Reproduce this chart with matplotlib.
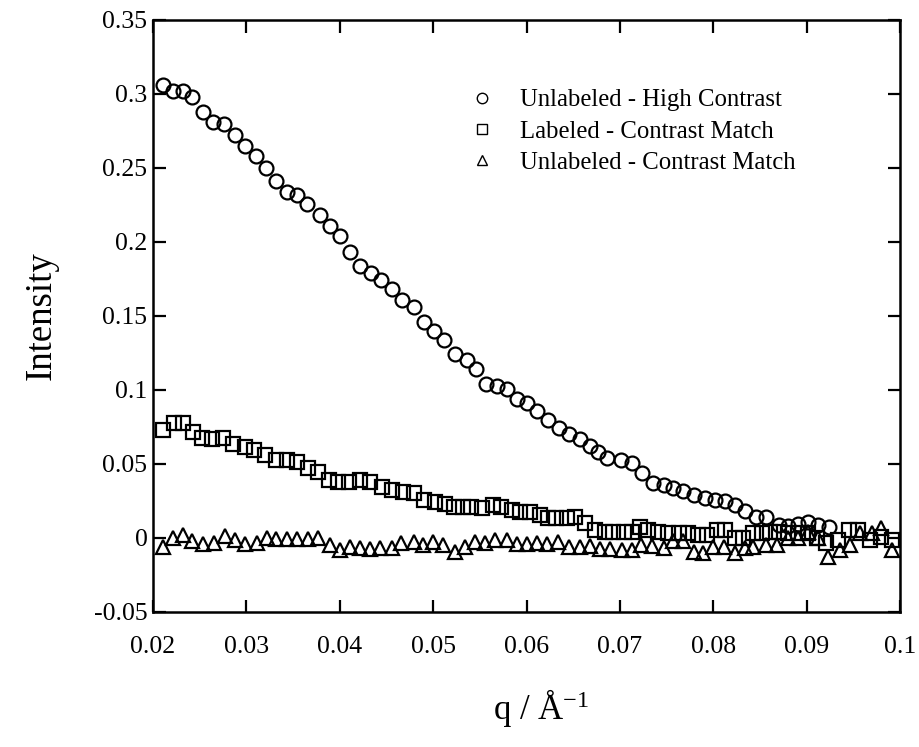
import matplotlib
matplotlib.use("Agg")
import matplotlib.pyplot as plt
from matplotlib.lines import Line2D

# Unlabeled - High Contrast
q_high = [0.0211, 0.0221, 0.0232, 0.0242, 0.0254, 0.0264, 0.0276, 0.0288, 0.0299, 0.0310,
          0.0321, 0.0332, 0.0343, 0.0354, 0.0365, 0.0379, 0.0390, 0.0400, 0.0411, 0.0422,
          0.0433, 0.0444, 0.0456, 0.0467, 0.0479, 0.0490, 0.0501, 0.0512, 0.0523, 0.0536,
          0.0546, 0.0557, 0.0568, 0.0579, 0.0590, 0.0601, 0.0611, 0.0623, 0.0635, 0.0646,
          0.0657, 0.0668, 0.0677, 0.0686, 0.0701, 0.0713, 0.0724, 0.0736, 0.0747, 0.0757,
          0.0768, 0.0779, 0.0791, 0.0802, 0.0813, 0.0823, 0.0834, 0.0846, 0.0857, 0.0870,
          0.0880, 0.0891, 0.0902, 0.0912, 0.0924]
i_high = [0.306, 0.302, 0.302, 0.298, 0.288, 0.281, 0.280, 0.272, 0.265, 0.258,
          0.250, 0.241, 0.234, 0.232, 0.226, 0.218, 0.211, 0.204, 0.193, 0.184,
          0.179, 0.174, 0.168, 0.161, 0.156, 0.146, 0.140, 0.134, 0.124, 0.120,
          0.114, 0.104, 0.103, 0.101, 0.094, 0.091, 0.086, 0.080, 0.074, 0.070,
          0.067, 0.062, 0.058, 0.054, 0.053, 0.051, 0.044, 0.037, 0.036, 0.034,
          0.032, 0.029, 0.027, 0.026, 0.025, 0.022, 0.018, 0.014, 0.014, 0.009,
          0.008, 0.0095, 0.011, 0.009, 0.0076]

# Labeled - Contrast Match
q_lab = [0.0211, 0.0222, 0.0232, 0.0243, 0.0252, 0.0263, 0.0275, 0.0286, 0.0298, 0.0308,
         0.0320, 0.0332, 0.0343, 0.0354, 0.0366, 0.0377, 0.0388, 0.0398, 0.0410, 0.0422,
         0.0432, 0.0445, 0.0456, 0.0468, 0.0479, 0.0490, 0.0502, 0.0513,
         0.0522, 0.0532, 0.0541, 0.0552, 0.0564, 0.0573, 0.0584, 0.0593, 0.0604, 0.0614,
         0.0623, 0.0632, 0.0643, 0.0652, 0.0663, 0.0673, 0.0684, 0.0693,
         0.0704, 0.0713, 0.0722, 0.0730, 0.0741, 0.0752, 0.0763, 0.0773, 0.0784, 0.0793,
         0.0804, 0.0813, 0.0823, 0.0832, 0.0843, 0.0852,
         0.0861, 0.0870, 0.0880, 0.0891, 0.0902, 0.0911, 0.0921, 0.0934, 0.0945, 0.0955,
         0.0968, 0.0980, 0.0991]
i_lab = [0.0730, 0.0775, 0.0775, 0.0718, 0.0674, 0.0667, 0.0674, 0.0635, 0.0617, 0.0595,
         0.0561, 0.0527, 0.0527, 0.0516, 0.0471, 0.0448, 0.0392, 0.0380, 0.0380, 0.0392,
         0.0380, 0.0347, 0.0324, 0.0313, 0.0302, 0.0257, 0.0245, 0.0230,
         0.0211, 0.0211, 0.0211, 0.0200, 0.0223, 0.0211, 0.0189, 0.0178, 0.0178, 0.0155,
         0.0133, 0.0133, 0.0133, 0.0144, 0.0099, 0.0054, 0.0043, 0.0043,
         0.0043, 0.0043, 0.0077, 0.0054, 0.0043, 0.0032, 0.0032, 0.0032, 0.0020, 0.0020,
         0.0054, 0.0054, -0.0002, -0.0002, 0.0032, 0.0035,
         0.0043, 0.0043, 0.0032, 0.0032, 0.0032, -0.0002, -0.0036, -0.0014, 0.0054, 0.0054,
         -0.0014, 0.0009, -0.0014]

# Unlabeled - Contrast Match
q_unl = [0.0211, 0.0221, 0.0232, 0.0242, 0.0254, 0.0265, 0.0277, 0.0288, 0.0299, 0.0311,
         0.0322, 0.0332, 0.0343, 0.0354, 0.0366, 0.0377, 0.0390, 0.0400, 0.0411, 0.0422,
         0.0432, 0.0443, 0.0456, 0.0466, 0.0479, 0.0489, 0.0500, 0.0511,
         0.0523, 0.0534, 0.0545, 0.0556, 0.0566, 0.0579, 0.0590, 0.0600, 0.0611, 0.0622,
         0.0634, 0.0645, 0.0657, 0.0668, 0.0679, 0.0689,
         0.0702, 0.0713, 0.0723, 0.0734, 0.0747, 0.0757, 0.0768, 0.0779, 0.0789, 0.0800,
         0.0811, 0.0823, 0.0834, 0.0843,
         0.0857, 0.0868, 0.0880, 0.0891, 0.0902, 0.0912, 0.0923, 0.0936, 0.0946, 0.0957,
         0.0970, 0.0980, 0.0991]
i_unl = [-0.0059, -0.0003, 0.0020, -0.0018, -0.0041, -0.0032, 0.0014, -0.0014, -0.0041, -0.0036,
         -0.0003, -0.0009, -0.0009, -0.0009, -0.0009, -0.0003, -0.0047, -0.0081, -0.0059, -0.0070,
         -0.0077, -0.0070, -0.0070, -0.0032, -0.0025, -0.0047, -0.0025, -0.0047,
         -0.0093, -0.0059, -0.0025, -0.0036, -0.0014, -0.0014, -0.0041, -0.0041, -0.0032, -0.0041,
         -0.0025, -0.0059, -0.0059, -0.0054, -0.0077, -0.0077,
         -0.0081, -0.0081, -0.0047, -0.0054, -0.0070, -0.0018, -0.0018, -0.0093, -0.0104, -0.0059,
         -0.0059, -0.0099, -0.0070, -0.0059,
         -0.0047, -0.0047, -0.0002, -0.0002, 0.0043, -0.0002, -0.0127, -0.0081, -0.0047, 0.0032,
         0.0032, 0.0066, -0.0081]

series_labels = ["Unlabeled - High Contrast", "Labeled - Contrast Match", "Unlabeled - Contrast Match"]
x_ticks = [0.02, 0.03, 0.04, 0.05, 0.06, 0.07, 0.08, 0.09, 0.1]
x_tick_labels = ["0.02", "0.03", "0.04", "0.05", "0.06", "0.07", "0.08", "0.09", "0.1"]
y_ticks = [-0.05, 0, 0.05, 0.1, 0.15, 0.2, 0.25, 0.3, 0.35]
y_tick_labels = ["-0.05", "0", "0.05", "0.1", "0.15", "0.2", "0.25", "0.3", "0.35"]

plt.rcParams["font.family"] = ["Liberation Serif", "DejaVu Serif"]

fig = plt.figure(figsize=(9.19, 7.47), dpi=100)
ax = fig.add_axes([153 / 919, 1 - 612 / 747, (900 - 153) / 919, (612 - 20) / 747])

mstyle = dict(linestyle="none", markerfacecolor="none", markeredgecolor="black", markeredgewidth=1.6)
ax.plot(q_high, i_high, marker="o", markersize=10, **mstyle)
ax.plot(q_lab, i_lab, marker="s", markersize=9.5, **mstyle)
ax.plot(q_unl, i_unl, marker="^", markersize=10.5, **mstyle)

ax.set_xlim(0.02, 0.1)
ax.set_ylim(-0.05, 0.35)
ax.set_xticks(x_ticks)
ax.set_xticklabels(x_tick_labels)
ax.set_yticks(y_ticks)
ax.set_yticklabels(y_tick_labels)
ax.tick_params(direction="in", length=9, width=1.6, top=True, right=True, labelsize=18.5)
ax.tick_params(axis="y", pad=4)
ax.tick_params(axis="x", pad=17)
for sp in ax.spines.values():
    sp.set_linewidth(1.8)

ax.set_ylabel("Intensity", fontsize=26.5, labelpad=25)
ax.set_xlabel(r"q / $\mathregular{\AA^{-1}}$", fontsize=25, labelpad=20)
ax.xaxis.set_label_coords(0.52, -0.127)

leg_style = dict(linestyle="none", markerfacecolor="none", markeredgecolor="black",
                 markeredgewidth=1.0, markersize=7.5)
handles = [Line2D([], [], marker="o", **leg_style),
           Line2D([], [], marker="s", **leg_style),
           Line2D([], [], marker="^", **leg_style)]
ax.legend(handles, series_labels, loc="upper left", bbox_to_anchor=(0.41, 0.90),
          frameon=False, fontsize=17.8, handlelength=1.0, handletextpad=1.05,
          labelspacing=0.36, borderaxespad=0)

fig.savefig("out.png", dpi=100)
